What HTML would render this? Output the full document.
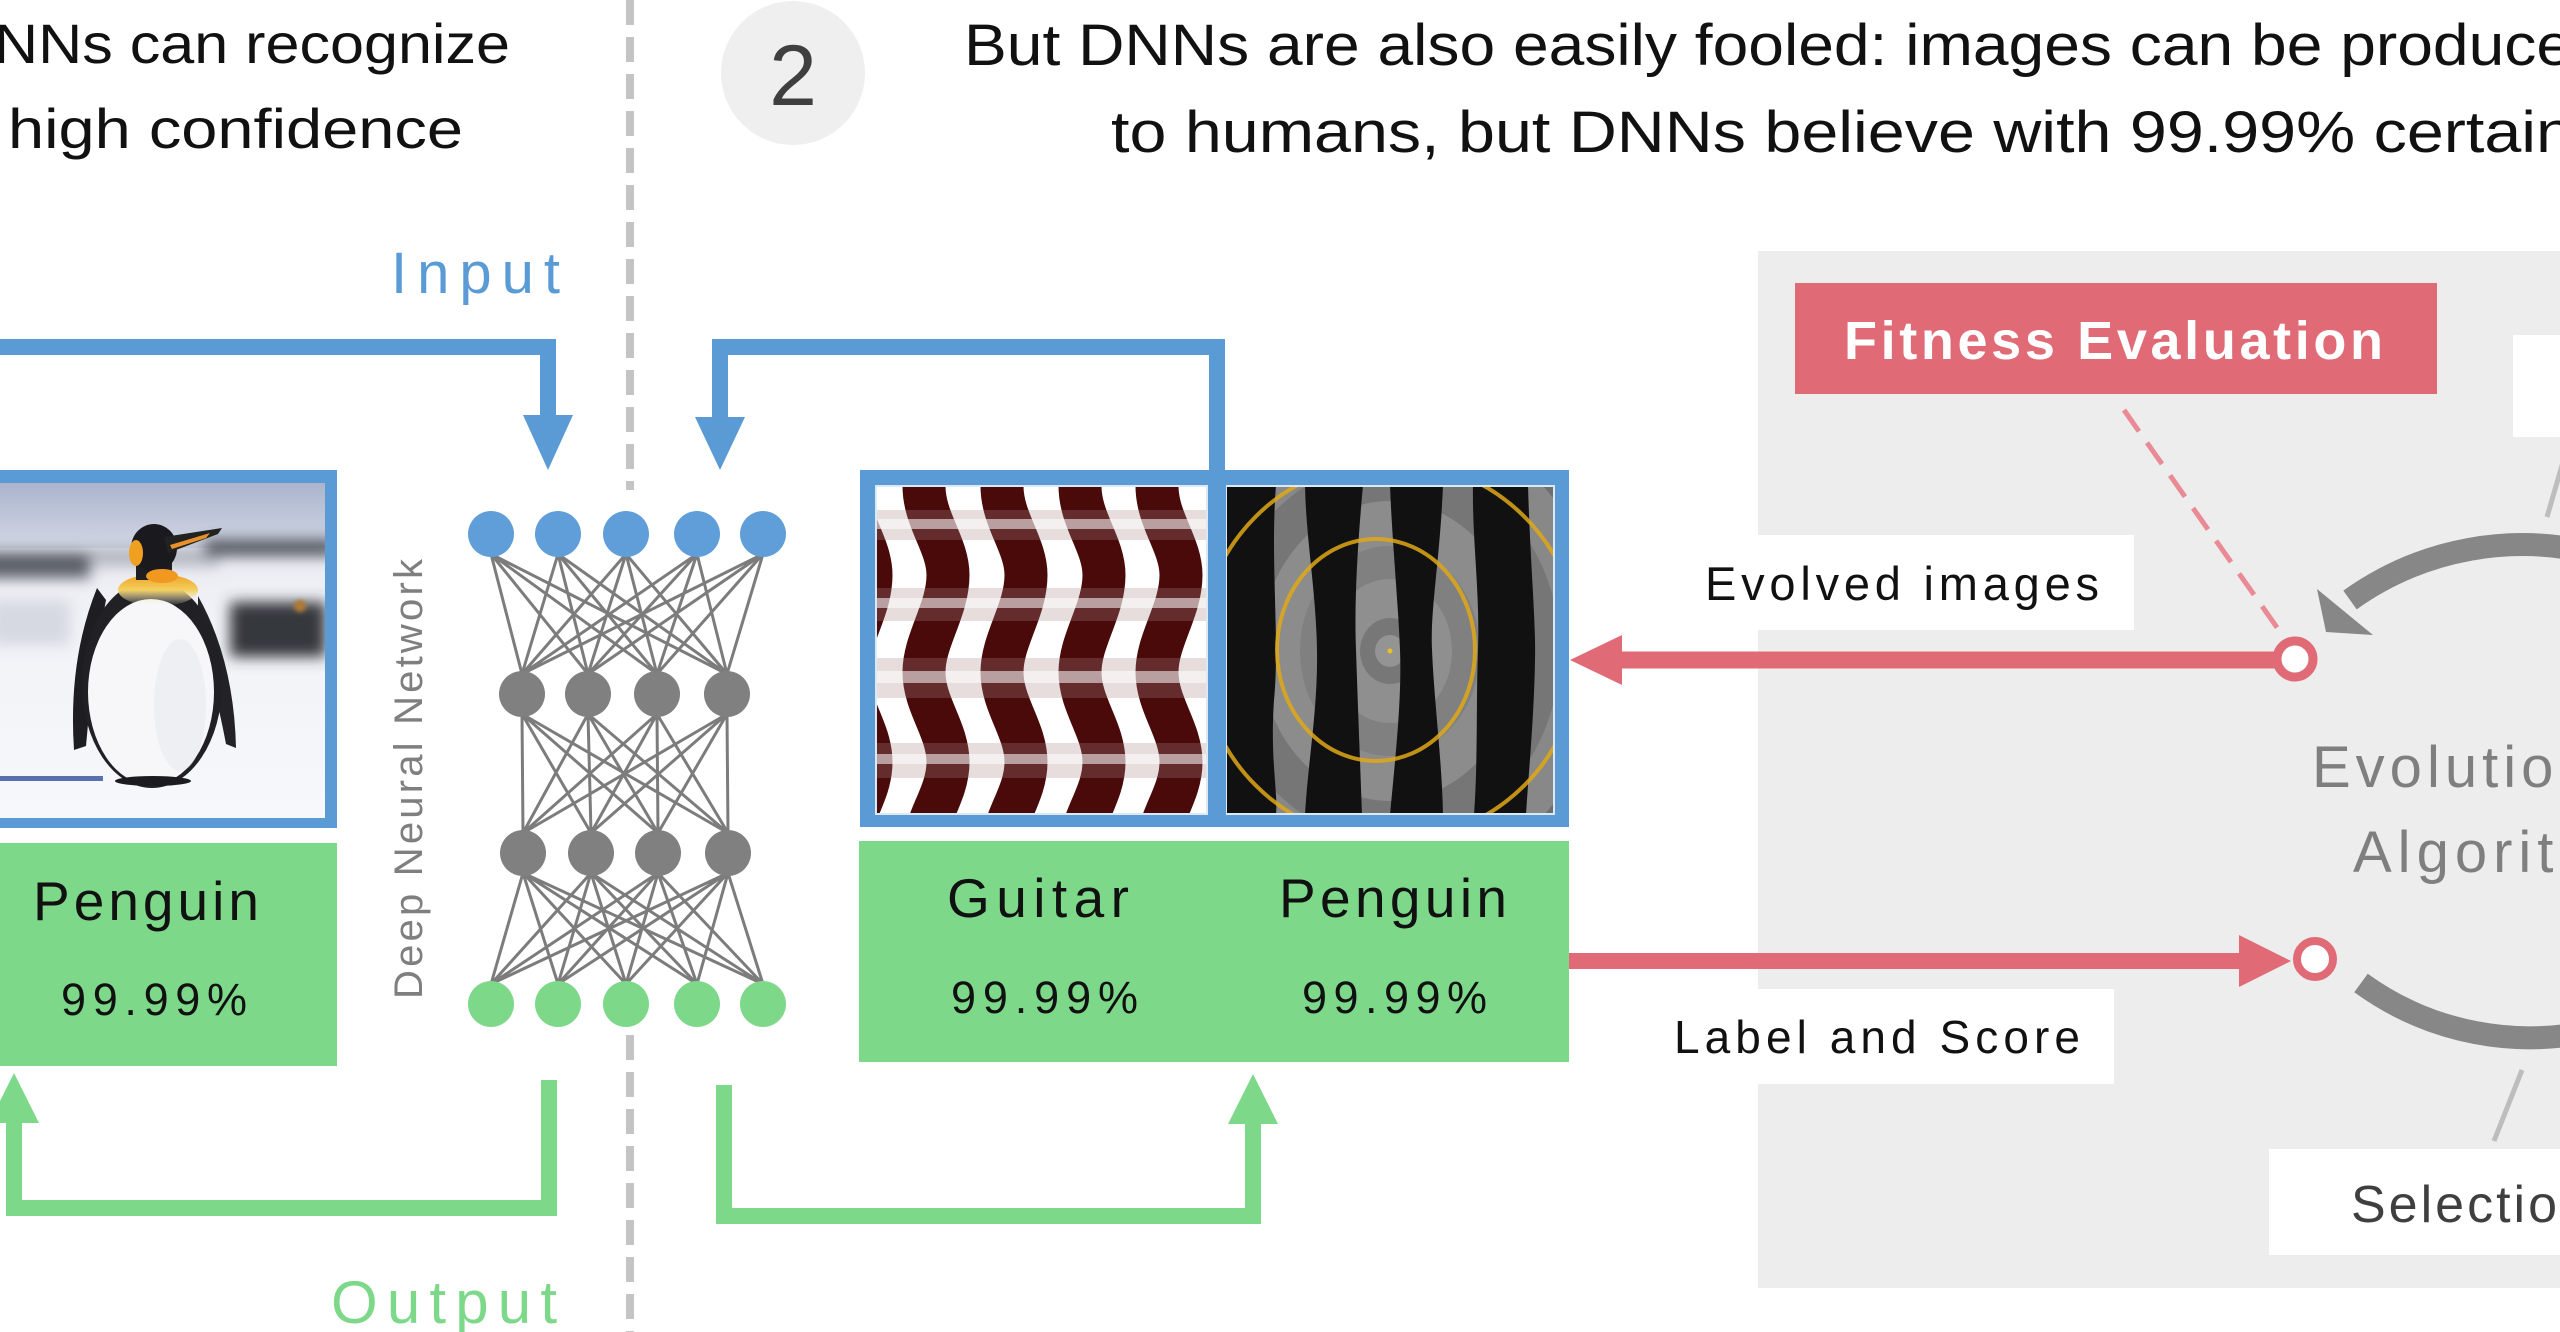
<!DOCTYPE html>
<html><head><meta charset="utf-8">
<style>
html,body{margin:0;padding:0;background:#fff;overflow:hidden;}
svg{display:block;}
text{font-family:"Liberation Sans",sans-serif;}
</style></head>
<body>
<svg width="2560" height="1332" viewBox="0 0 2560 1332" xmlns="http://www.w3.org/2000/svg">
<defs>
<clipPath id="pc"><rect x="0" y="483" width="325" height="335"/></clipPath>
<clipPath id="gc"><rect x="875" y="485" width="333" height="330"/></clipPath>
<clipPath id="fc"><rect x="1226" y="485" width="329" height="330"/></clipPath>
<linearGradient id="sky" x1="0" y1="0" x2="0" y2="1">
<stop offset="0" stop-color="#aab4cd"/><stop offset="1" stop-color="#d2d7e4"/>
</linearGradient>
<linearGradient id="snow" x1="0" y1="0" x2="0" y2="1">
<stop offset="0" stop-color="#e3e6ee"/><stop offset="0.4" stop-color="#f0f2f7"/><stop offset="1" stop-color="#f7f8fb"/>
</linearGradient>
<linearGradient id="chest" x1="0" y1="0" x2="0" y2="1">
<stop offset="0" stop-color="#f0a020"/><stop offset="0.5" stop-color="#f3d060"/><stop offset="1" stop-color="#f6f6f8" stop-opacity="0"/>
</linearGradient>
<filter id="bl" x="-50%" y="-50%" width="200%" height="200%"><feGaussianBlur stdDeviation="7"/></filter>
<filter id="bl2" x="-50%" y="-50%" width="200%" height="200%"><feGaussianBlur stdDeviation="2"/></filter>
</defs>

<!-- Header left -->
<text x="-6" y="63" font-size="56" fill="#111" textLength="516" lengthAdjust="spacingAndGlyphs">NNs can recognize</text>
<text x="8" y="148" font-size="56" fill="#111" textLength="455" lengthAdjust="spacingAndGlyphs">high confidence</text>

<!-- Circle 2 -->
<circle cx="793" cy="73" r="72" fill="#efefef"/>
<text x="793" y="105" text-anchor="middle" font-size="86" fill="#3f3f3f">2</text>

<!-- Header right -->
<text x="964" y="65" font-size="58" fill="#111" textLength="1608" lengthAdjust="spacingAndGlyphs">But DNNs are also easily fooled: images can be produce</text>
<text x="1111" y="152" font-size="58" fill="#111" textLength="1462" lengthAdjust="spacingAndGlyphs">to humans, but DNNs believe with 99.99% certain</text>

<!-- Dashed separator -->
<line x1="630" y1="0" x2="630" y2="490" stroke="#c4c4c4" stroke-width="8" stroke-dasharray="25 12"/>
<line x1="630" y1="1035" x2="630" y2="1332" stroke="#c4c4c4" stroke-width="8" stroke-dasharray="25 12"/>

<!-- Input label -->
<text x="391" y="293" font-size="58" fill="#5b9bd5" textLength="169" lengthAdjust="spacing">Input</text>

<!-- Left input arrow -->
<path d="M-20 347 H548 V420" fill="none" stroke="#5b9bd5" stroke-width="16" stroke-linejoin="miter"/>
<polygon points="523,415 573,415 548,470" fill="#5b9bd5"/>

<!-- Right input arrow -->
<path d="M1217 475 V347 H720 V420" fill="none" stroke="#5b9bd5" stroke-width="16" stroke-linejoin="miter"/>
<polygon points="695,417 745,417 720,470" fill="#5b9bd5"/>

<!-- Left penguin box -->
<rect x="-10" y="470" width="347" height="358" fill="#5b9bd5"/>
<g clip-path="url(#pc)">
<rect x="0" y="483" width="325" height="335" fill="url(#snow)"/>
<rect x="0" y="483" width="325" height="65" fill="url(#sky)"/>
<g filter="url(#bl)">
<rect x="-20" y="552" width="110" height="26" fill="#5c5f68"/>
<rect x="90" y="548" width="130" height="18" fill="#9a9ea8" opacity="0.7"/>
<rect x="205" y="540" width="130" height="16" fill="#50535c"/>
<rect x="230" y="602" width="96" height="55" fill="#36383e"/>
<rect x="-10" y="600" width="80" height="45" fill="#d6d9e1"/>
</g>
<circle cx="300" cy="606" r="6" fill="#b07a30" filter="url(#bl2)"/>
<rect x="0" y="776" width="103" height="5" fill="#3d5ba0" opacity="0.85"/>
<!-- penguin -->
<path d="M97 588 Q68 660 74 750 L86 746 Q92 672 106 600 Z" fill="#1d1d22"/>
<path d="M198 596 Q234 660 236 748 L226 744 Q214 680 198 640 Z" fill="#222227"/>
<ellipse cx="152" cy="684" rx="70" ry="104" fill="#202025"/>
<ellipse cx="151" cy="692" rx="63" ry="93" fill="#f7f7f9"/>
<ellipse cx="180" cy="705" rx="26" ry="66" fill="#e8e9ee" opacity="0.6"/>
<ellipse cx="158" cy="590" rx="40" ry="16" fill="url(#chest)"/>
<rect x="136" y="548" width="36" height="32" fill="#1e1e23"/>
<ellipse cx="154" cy="548" rx="23" ry="24" fill="#1a1a1e"/>
<ellipse cx="136" cy="553" rx="7" ry="13" fill="#f0a020"/>
<ellipse cx="162" cy="576" rx="16" ry="7" fill="#f09820"/>
<polygon points="164,537 222,528 218,534 168,553" fill="#222"/>
<polygon points="170,545 210,533 206,538 172,549" fill="#e8902a"/>
<ellipse cx="153" cy="781" rx="38" ry="5" fill="#1c1c20"/>
</g>

<!-- Left green box -->
<rect x="0" y="843" width="337" height="223" fill="#7dd88a"/>
<text x="33" y="920" font-size="55" fill="#111" textLength="226" lengthAdjust="spacing">Penguin</text>
<text x="61" y="1015" font-size="45" fill="#111" textLength="186" lengthAdjust="spacing">99.99%</text>

<!-- Left output arrow -->
<path d="M549 1080 V1208 H14 V1120" fill="none" stroke="#7dd88a" stroke-width="16" stroke-linejoin="miter"/>
<polygon points="-11,1123 39,1123 14,1073" fill="#7dd88a"/>
<text x="331" y="1323" font-size="60" fill="#7dd88a" textLength="226" lengthAdjust="spacing">Output</text>

<!-- Deep Neural Network label -->
<text transform="translate(422,779) rotate(-90)" text-anchor="middle" font-size="40" fill="#7f7f7f" textLength="440" lengthAdjust="spacing">Deep Neural Network</text>

<!-- Network edges -->
<path fill="none" stroke="#7c7c7c" stroke-width="3" d="
M491 554L522 674M491 554L588 674M491 554L657 674M491 554L727 674
M558 554L522 674M558 554L588 674M558 554L657 674M558 554L727 674
M626 554L522 674M626 554L588 674M626 554L657 674M626 554L727 674
M697 554L522 674M697 554L588 674M697 554L657 674M697 554L727 674
M763 554L522 674M763 554L588 674M763 554L657 674M763 554L727 674
M522 714L523 833M522 714L591 833M522 714L658 833M522 714L728 833
M588 714L523 833M588 714L591 833M588 714L658 833M588 714L728 833
M657 714L523 833M657 714L591 833M657 714L658 833M657 714L728 833
M727 714L523 833M727 714L591 833M727 714L658 833M727 714L728 833
M523 873L491 984M523 873L558 984M523 873L626 984M523 873L697 984M523 873L763 984
M591 873L491 984M591 873L558 984M591 873L626 984M591 873L697 984M591 873L763 984
M658 873L491 984M658 873L558 984M658 873L626 984M658 873L697 984M658 873L763 984
M728 873L491 984M728 873L558 984M728 873L626 984M728 873L697 984M728 873L763 984"/>
<!-- Nodes -->
<g fill="#5f9ed8">
<circle cx="491" cy="534" r="23"/><circle cx="558" cy="534" r="23"/><circle cx="626" cy="534" r="23"/><circle cx="697" cy="534" r="23"/><circle cx="763" cy="534" r="23"/>
</g>
<g fill="#808080">
<circle cx="522" cy="694" r="23"/><circle cx="588" cy="694" r="23"/><circle cx="657" cy="694" r="23"/><circle cx="727" cy="694" r="23"/>
<circle cx="523" cy="853" r="23"/><circle cx="591" cy="853" r="23"/><circle cx="658" cy="853" r="23"/><circle cx="728" cy="853" r="23"/>
</g>
<g fill="#7dd88a">
<circle cx="491" cy="1004" r="23"/><circle cx="558" cy="1004" r="23"/><circle cx="626" cy="1004" r="23"/><circle cx="697" cy="1004" r="23"/><circle cx="763" cy="1004" r="23"/>
</g>

<!-- Middle blue box -->
<rect x="860" y="470" width="709" height="357" fill="#5b9bd5"/>
<!-- Guitar image -->
<g clip-path="url(#gc)">
<rect x="875" y="485" width="333" height="330" fill="#fff"/>
<g fill="none" stroke="#4a0a0a" stroke-width="43">
<path d="M847 440 L847 486 C847 520 871 545 871 575 C871 610 847 640 847 672 C847 705 871 730 871 762 C871 795 847 819 847 850"/>
<path d="M924 440 L924 486 C924 520 948 545 948 575 C948 610 924 640 924 672 C924 705 948 730 948 762 C948 795 924 819 924 850"/>
<path d="M1002 440 L1002 486 C1002 520 1026 545 1026 575 C1026 610 1002 640 1002 672 C1002 705 1026 730 1026 762 C1026 795 1002 819 1002 850"/>
<path d="M1080 440 L1080 486 C1080 520 1104 545 1104 575 C1104 610 1080 640 1080 672 C1080 705 1104 730 1104 762 C1104 795 1080 819 1080 850"/>
<path d="M1157 440 L1157 486 C1157 520 1181 545 1181 575 C1181 610 1157 640 1157 672 C1157 705 1181 730 1181 762 C1181 795 1157 819 1157 850"/>
</g>
<g>
<rect x="875" y="510" width="333" height="30" fill="#a98585" opacity="0.28"/>
<rect x="875" y="519" width="333" height="10" fill="#fff" opacity="0.55"/>
<rect x="875" y="588" width="333" height="33" fill="#a98585" opacity="0.28"/>
<rect x="875" y="598" width="333" height="10" fill="#fff" opacity="0.55"/>
<rect x="875" y="658" width="333" height="40" fill="#a98585" opacity="0.28"/>
<rect x="875" y="671" width="333" height="12" fill="#fff" opacity="0.55"/>
<rect x="875" y="743" width="333" height="35" fill="#a98585" opacity="0.28"/>
<rect x="875" y="754" width="333" height="10" fill="#fff" opacity="0.55"/>
</g>
<rect x="876" y="486" width="331" height="328" fill="none" stroke="#dde8f5" stroke-width="2"/>
</g>
<!-- Fooling penguin image -->
<g clip-path="url(#fc)">
<rect x="1226" y="485" width="329" height="330" fill="#7a7a7a"/>
<ellipse cx="1390" cy="651" rx="260" ry="280" fill="#6e6e6e"/>
<ellipse cx="1390" cy="651" rx="215" ry="235" fill="#888"/>
<ellipse cx="1390" cy="651" rx="170" ry="190" fill="#767676"/>
<ellipse cx="1390" cy="651" rx="130" ry="150" fill="#8c8c8c"/>
<ellipse cx="1390" cy="651" rx="90" ry="105" fill="#808080"/>
<ellipse cx="1390" cy="651" rx="62" ry="72" fill="#8f8f8f"/>
<ellipse cx="1390" cy="651" rx="30" ry="33" fill="#777"/>
<ellipse cx="1390" cy="651" rx="15" ry="16" fill="#949494"/>
<g fill="#111">
<path d="M1226 485 H1276 C1270 560 1280 640 1274 700 C1270 760 1278 790 1276 815 H1226 Z"/>
<path d="M1305 485 H1363 C1358 540 1354 600 1356 650 C1358 710 1360 760 1362 815 H1305 C1308 760 1318 710 1317 650 C1316 590 1306 540 1305 485 Z"/>
<path d="M1390 485 H1443 C1440 560 1430 610 1432 650 C1434 700 1442 760 1443 815 H1390 C1395 760 1402 700 1400 650 C1398 600 1392 540 1390 485 Z"/>
<path d="M1473 485 H1528 C1530 560 1536 620 1535 660 C1534 720 1528 780 1526 815 H1474 C1478 760 1476 700 1478 650 C1480 590 1472 540 1473 485 Z"/>
</g>
<ellipse cx="1376" cy="650" rx="99" ry="111" fill="none" stroke="#e0a818" stroke-width="4" opacity="0.85"/>
<circle cx="1390" cy="651" r="190" fill="none" stroke="#e0a818" stroke-width="4" opacity="0.85"/>
<circle cx="1390" cy="651" r="2.5" fill="#f0c020"/>
<rect x="1226" y="486" width="328" height="328" fill="none" stroke="#dde8f5" stroke-width="2"/>
</g>

<!-- Middle green box -->
<rect x="859" y="841" width="710" height="221" fill="#7dd88a"/>
<text x="947" y="917" font-size="55" fill="#111" textLength="182" lengthAdjust="spacing">Guitar</text>
<text x="1279" y="917" font-size="55" fill="#111" textLength="228" lengthAdjust="spacing">Penguin</text>
<text x="951" y="1013" font-size="45" fill="#111" textLength="187" lengthAdjust="spacing">99.99%</text>
<text x="1302" y="1013" font-size="45" fill="#111" textLength="185" lengthAdjust="spacing">99.99%</text>

<!-- Middle output arrow -->
<path d="M724 1085 V1216 H1253 V1120" fill="none" stroke="#7dd88a" stroke-width="16" stroke-linejoin="miter"/>
<polygon points="1228,1124 1278,1124 1253,1074" fill="#7dd88a"/>

<!-- Right gray panel -->
<rect x="1758" y="251" width="810" height="1037" fill="#ededed"/>
<rect x="2513" y="335" width="60" height="102" fill="#fff"/>
<rect x="1682" y="535" width="452" height="95" fill="#fff"/>
<rect x="1646" y="989" width="468" height="95" fill="#fff"/>
<rect x="2269" y="1149" width="300" height="106" fill="#fff"/>

<!-- Fitness Evaluation -->
<rect x="1795" y="283" width="642" height="111" fill="#e06b76"/>
<text x="1844" y="359" font-size="54" font-weight="bold" fill="#fff" textLength="539" lengthAdjust="spacing">Fitness Evaluation</text>

<text x="1705" y="600" font-size="47" fill="#111" textLength="394" lengthAdjust="spacing">Evolved images</text>
<text x="1674" y="1053" font-size="46" fill="#111" textLength="406" lengthAdjust="spacing">Label and Score</text>

<!-- Thin gray lines -->
<line x1="2563" y1="462" x2="2547" y2="517" stroke="#bdbdbd" stroke-width="5"/>
<line x1="2522" y1="1070" x2="2494" y2="1141" stroke="#bdbdbd" stroke-width="5"/>

<!-- Evolutionary arcs -->
<path d="M2600 555 A296 296 0 0 0 2350 600" fill="none" stroke="#878787" stroke-width="23"/>
<polygon points="2317,589 2326,632 2373,635" fill="#878787"/>
<path d="M2361 983 A287 287 0 0 0 2600 1029" fill="none" stroke="#878787" stroke-width="23"/>

<text x="2312" y="787" font-size="58" fill="#7f7f7f" letter-spacing="5">Evolutionary</text>
<text x="2353" y="872" font-size="58" fill="#7f7f7f" letter-spacing="6">Algorithm</text>
<text x="2351" y="1222" font-size="52" fill="#3f3f3f" letter-spacing="3">Selection</text>

<!-- Pink dashed -->
<line x1="2124" y1="410" x2="2283" y2="636" stroke="#e98a94" stroke-width="5" stroke-dasharray="26 14"/>

<!-- Red arrows -->
<line x1="2277" y1="660" x2="1615" y2="660" stroke="#e06b76" stroke-width="17"/>
<polygon points="1570,660 1622,635 1622,685" fill="#e06b76"/>
<circle cx="2295" cy="659" r="18" fill="#fff" stroke="#e06b76" stroke-width="9"/>

<line x1="1569" y1="961" x2="2245" y2="961" stroke="#e06b76" stroke-width="16"/>
<polygon points="2239,935 2239,987 2291,961" fill="#e06b76"/>
<circle cx="2315" cy="959" r="18" fill="#fff" stroke="#e06b76" stroke-width="8"/>
</svg>
</body></html>
